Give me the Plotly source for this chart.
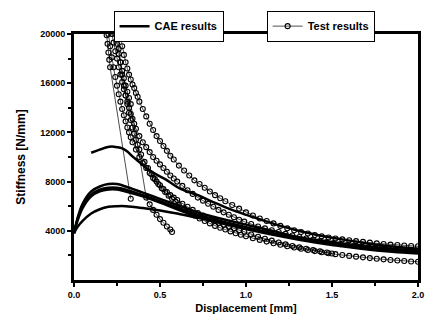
import plotly.graph_objects as go

# ---- CAE results (solid lines) ----
cae1_x = [0.10,0.13,0.16,0.19,0.22,0.25,0.28,0.31,0.34,0.37,0.40,0.43,0.47,0.53,0.62,0.72,0.80,0.90,1.00,1.20,1.40,1.60,1.80,2.00]
cae1_y = [10350,10500,10650,10800,10850,10800,10700,10450,10050,9700,9350,9000,8650,8200,7400,6900,6400,5800,5300,4400,3700,3200,2800,2550]

cae_x = [0.0,0.02,0.05,0.10,0.15,0.20,0.25,0.30,0.40,0.50,0.60,0.72,0.85,1.00,1.15,1.30,1.50,1.67,1.85,2.00]
cae2_y = [3800,5000,6200,7200,7600,7800,7800,7600,7100,6600,6100,5500,5000,4500,4000,3500,3100,2800,2550,2400]
cae3_y = [3800,4900,6000,6950,7350,7500,7500,7350,6900,6400,5900,5300,4800,4300,3800,3400,2950,2650,2400,2250]
cae4_y = [3800,4800,5850,6800,7200,7350,7350,7200,6800,6300,5750,5150,4650,4150,3700,3300,2850,2550,2300,2150]
cae5_y = [3800,4300,4800,5400,5750,5950,6000,6000,5850,5650,5400,5050,4650,4200,3800,3400,3000,2700,2450,2300]

# ---- Test results (circles + thin line) ----
t1_x = [0.19,0.195,0.20,0.205,0.21,0.33]
t1_y = [19900,19200,18500,17900,17300,6600]

t2_x = [0.24,0.25,0.26,0.27,0.28,0.29,0.30,0.31,0.32,0.33,0.42,0.44,0.46,0.48,0.50,0.52,0.54,0.56,0.57]
t2_y = [20000,19200,18400,17700,17000,16400,15800,15300,14800,14300,6700,6150,5700,5300,4950,4650,4350,4100,3900]

ta_x = [0.27,0.28,0.29,0.30,0.31,0.32,0.33,0.34,0.35,0.36,0.37,0.38,0.40,0.42,0.44,0.46,0.48,0.50,0.52,0.54,
        0.56,0.58,0.61,0.64,0.67,0.70,0.73,0.76,0.79,0.82,0.85,0.88,0.92,0.96,1.00,1.04,1.08,1.12,1.16,1.20,
        1.24,1.28,1.32,1.36,1.40,1.44,1.48,1.52,1.56,1.60,1.64,1.68,1.72,1.76,1.80,1.84,1.88,1.92,1.96,2.00]
ta_y = [19800,19000,18300,17700,17200,16700,16300,15900,15600,15200,14900,14500,13900,13300,12700,12200,11700,11300,10900,10500,
        10100,9800,9300,8900,8500,8100,7800,7500,7200,6900,6650,6400,6100,5800,5500,5250,5000,4800,4600,4400,
        4200,4050,3900,3780,3660,3560,3460,3380,3300,3230,3160,3100,3040,2980,2930,2880,2840,2800,2770,2740]

tb_x = [0.22,0.23,0.24,0.25,0.26,0.27,0.28,0.29,0.30,0.31,0.32,0.33,0.34,0.35,0.36,
        0.38,0.40,0.42,0.44,0.46,0.48,0.50,0.52,0.54,0.56,0.58,0.60,
        0.63,0.66,0.69,0.72,0.75,0.78,0.81,0.84,0.87,0.90,0.93,0.96,0.99,
        1.03,1.07,1.11,1.15,1.19,1.23,1.27,1.31,1.35,1.39,1.43,1.47,1.51,1.55,1.59,1.63,1.67,1.71,1.75,1.79,1.83,1.87,1.91,1.95,1.99]
tb_y = [20000,19300,18600,18000,17300,16700,16100,15500,15000,14500,14000,13500,13100,12700,12300,
        11700,11200,10800,10400,10000,9700,9400,9100,8800,8500,8250,8000,
        7650,7300,7000,6700,6450,6200,5950,5700,5500,5300,5100,4900,4750,
        4550,4350,4200,4050,3900,3750,3620,3500,3380,3270,3170,3080,3000,2920,2850,2780,2720,2660,2610,2560,2520,2480,2440,2410,2380]

tc_x = [0.20,0.21,0.22,0.23,0.24,0.25,0.26,0.27,0.28,0.29,0.30,0.31,0.32,0.33,0.34,
        0.36,0.38,0.40,0.42,0.44,0.46,0.48,0.50,0.52,0.54,0.56,0.58,0.60,
        0.63,0.66,0.69,0.72,0.75,0.78,0.81,0.84,0.87,0.90,0.93,0.96,0.99,
        1.03,1.07,1.11,1.15,1.19,1.23,1.27,1.31,1.35,1.39,1.43,1.47,1.50]
tc_y = [20000,19000,18100,17300,16500,15800,15100,14500,13900,13400,12900,12400,12000,11600,11200,
        10600,10000,9500,9100,8700,8300,8000,7700,7400,7150,6900,6700,6500,
        6200,5950,5700,5450,5250,5050,4850,4650,4500,4350,4200,4050,3920,
        3700,3520,3350,3200,3050,2900,2770,2650,2540,2430,2330,2230,2150]

td_x = [0.25,0.26,0.27,0.28,0.29,0.30,0.31,0.32,0.33,0.34,0.35,0.36,0.37,0.38,0.39,
        0.41,0.43,0.45,0.47,0.49,0.51,0.53,0.55,0.57,0.59,0.61,
        0.64,0.67,0.70,0.73,0.76,0.79,0.82,0.85,0.88,0.91,0.94,0.97,1.00,
        1.04,1.08,1.12,1.16,1.20,1.24,1.28,1.32,1.36,1.40,1.44,1.48,1.52,1.56,1.60,1.64,1.68,1.72,1.76,1.80,1.84,1.88,1.92,1.96,2.00]
td_y = [20000,18800,17700,16700,15800,15000,14300,13600,13000,12400,11900,11400,11000,10600,10200,
        9600,9100,8600,8200,7800,7450,7150,6850,6600,6350,6100,
        5800,5500,5250,5000,4800,4600,4400,4250,4100,3950,3800,3680,3560,
        3400,3260,3120,2990,2870,2750,2640,2540,2440,2350,2260,2180,2100,2030,1960,1900,1840,1780,1730,1680,1630,1590,1550,1510,1480]

x_ticks = [0.0, 0.5, 1.0, 1.5, 2.0]
y_ticks = [4000, 8000, 12000, 16000, 20000]

FONT = "Arial, Liberation Sans, sans-serif"
fig = go.Figure()

cae_sets = [(cae1_x, cae1_y), (cae_x, cae2_y), (cae_x, cae3_y), (cae_x, cae4_y), (cae_x, cae5_y)]
for i, (xs, ys) in enumerate(cae_sets):
    fig.add_trace(go.Scatter(x=xs, y=ys, mode="lines", name="CAE results",
                             line=dict(color="black", width=2.5, shape="spline"),
                             showlegend=(i == 0), legend="legend"))

test_sets = [(t1_x, t1_y), (t2_x, t2_y), (ta_x, ta_y), (tb_x, tb_y), (tc_x, tc_y), (td_x, td_y)]
for i, (xs, ys) in enumerate(test_sets):
    fig.add_trace(go.Scatter(x=xs, y=ys, mode="lines+markers", name="Test results",
                             line=dict(color="black", width=0.7),
                             marker=dict(symbol="circle-open", size=5, color="black", line=dict(width=1.1)),
                             showlegend=(i == 2), legend="legend2"))

leg_common = dict(bgcolor="white", bordercolor="black", borderwidth=1,
                  font=dict(family=FONT, size=11, color="black", weight="bold"),
                  yanchor="top", xanchor="left", itemwidth=30, tracegroupgap=0)
fig.update_layout(
    width=435, height=324,
    margin=dict(l=74, r=11, t=33, b=37),
    paper_bgcolor="white", plot_bgcolor="white",
    font=dict(family=FONT, color="black"),
    legend=dict(x=0.115, y=1.095, **leg_common),
    legend2=dict(x=0.56, y=1.095, **leg_common),
)
fig.update_xaxes(range=[0, 2.0], tickvals=x_ticks, tickformat=".1f",
                 showgrid=False, zeroline=False, showline=True, linecolor="black", linewidth=3, mirror=True,
                 ticks="outside", ticklen=4, tickwidth=2, tickcolor="black",
                 minor=dict(tickvals=[0.25, 0.75, 1.25, 1.75], ticks="outside", ticklen=3, tickwidth=1.5, tickcolor="black"),
                 tickfont=dict(size=9, family=FONT, weight="bold", color="black"),
                 title=dict(text="Displacement [mm]", font=dict(size=11, family=FONT, weight="bold", color="black"), standoff=6))
fig.update_yaxes(range=[0, 20000], tickvals=y_ticks, tickformat="d",
                 showgrid=False, zeroline=False, showline=True, linecolor="black", linewidth=3, mirror=True,
                 ticks="outside", ticklen=4, tickwidth=2, tickcolor="black",
                 minor=dict(tickvals=[2000, 6000, 10000, 14000, 18000], ticks="outside", ticklen=3, tickwidth=1.5, tickcolor="black"),
                 tickfont=dict(size=9, family=FONT, weight="bold", color="black"),
                 title=dict(text="Stiffness [N/mm]", font=dict(size=12, family=FONT, weight="bold", color="black"), standoff=12))

fig.write_html("out.html")
